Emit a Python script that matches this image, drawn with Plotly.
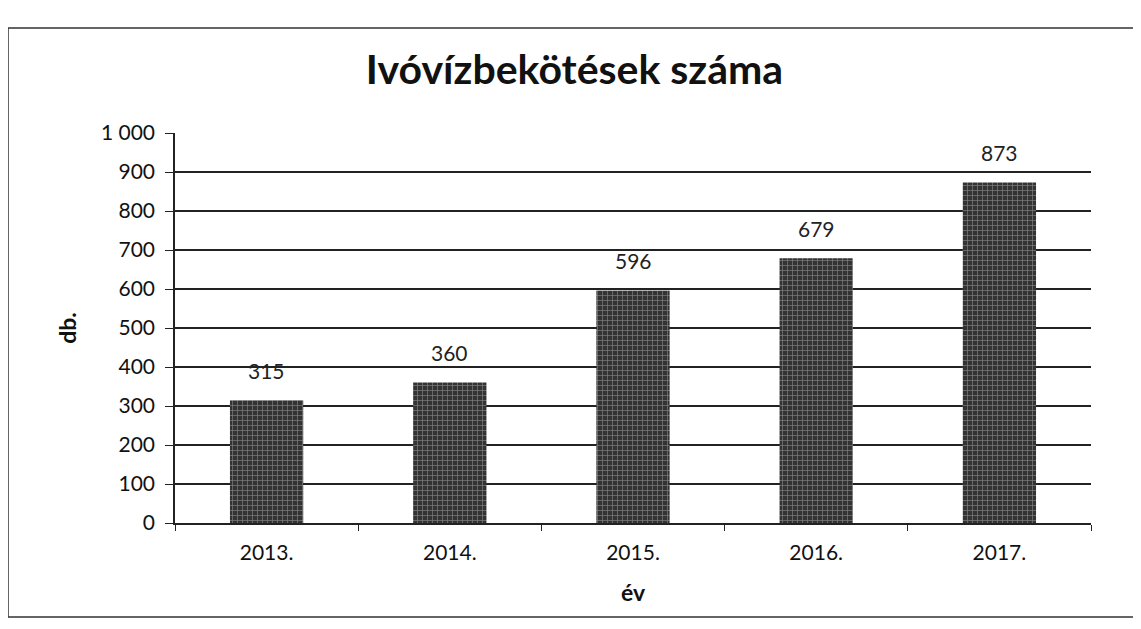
import plotly.graph_objects as go

years = ["2013.", "2014.", "2015.", "2016.", "2017."]
values = [315, 360, 596, 679, 873]
labels = ["315", "360", "596", "679", "873"]
yticks = [0, 100, 200, 300, 400, 500, 600, 700, 800, 900, 1000]
ytick_text = ["0", "100", "200", "300", "400", "500", "600", "700", "800", "900", "1 000"]

# page body has an 8px margin, so the figure is offset by 8px
W, H = 1133, 621
L, T = 167, 125
pw, ph = 916, 390
R, B = W - L - pw, H - T - ph

def px(x):
    return (x - L) / pw

def py(y):
    return (H - B - y) / ph

FONT = "Lato"

fig = go.Figure()
fig.add_trace(go.Bar(
    x=years, y=values,
    width=0.4,
    marker=dict(color="#333333", line=dict(width=0),
                pattern=dict(shape="+", fgcolor="#cfcfcf", size=5, solidity=0.25)),
))
for i, (v, lab) in enumerate(zip(values, labels)):
    fig.add_annotation(x=i, y=v, xref="x", yref="y", text=lab, showarrow=False,
                       yanchor="middle", yshift=30,
                       font=dict(size=21, color="#222", family=FONT))

fig.update_layout(
    width=W, height=H,
    margin=dict(l=L, r=R, t=T, b=B, autoexpand=False),
    paper_bgcolor="white", plot_bgcolor="white",
    title=dict(text="<b>Ivóvízbekötések száma</b>", x=0.5, xanchor="center",
               y=1 - 62 / H, yanchor="middle",
               font=dict(size=41, family=FONT, color="#111")),
    showlegend=False,
    font=dict(family=FONT, color="#111"),
)
fig.update_yaxes(
    range=[0, 1000], tickvals=yticks, ticktext=ytick_text,
    showgrid=True, gridcolor="#222", gridwidth=1.5,
    showline=True, linecolor="#222", linewidth=1.5,
    ticks="outside", ticklen=8, tickcolor="#222",
    ticklabelstandoff=6,
    tickfont=dict(size=21, color="#111"),
    title=dict(text="<b>db.</b>", font=dict(size=23), standoff=18),
    zeroline=False,
)
fig.update_xaxes(
    type="category", range=[-0.5, len(years) - 0.5],
    showline=True, linecolor="#222", linewidth=1.5,
    ticks="outside", ticklen=6, tickcolor="#222",
    tickson="boundaries",
    ticklabelstandoff=10,
    tickfont=dict(size=21, color="#111"),
    title=dict(text="<b>év</b>", font=dict(size=23), standoff=22),
)
fig.add_shape(type="rect", xref="paper", yref="paper",
              x0=px(0), x1=px(1140), y0=py(609), y1=py(20),
              line=dict(color="#333", width=1.5), layer="below")

fig.write_html("out.html")
